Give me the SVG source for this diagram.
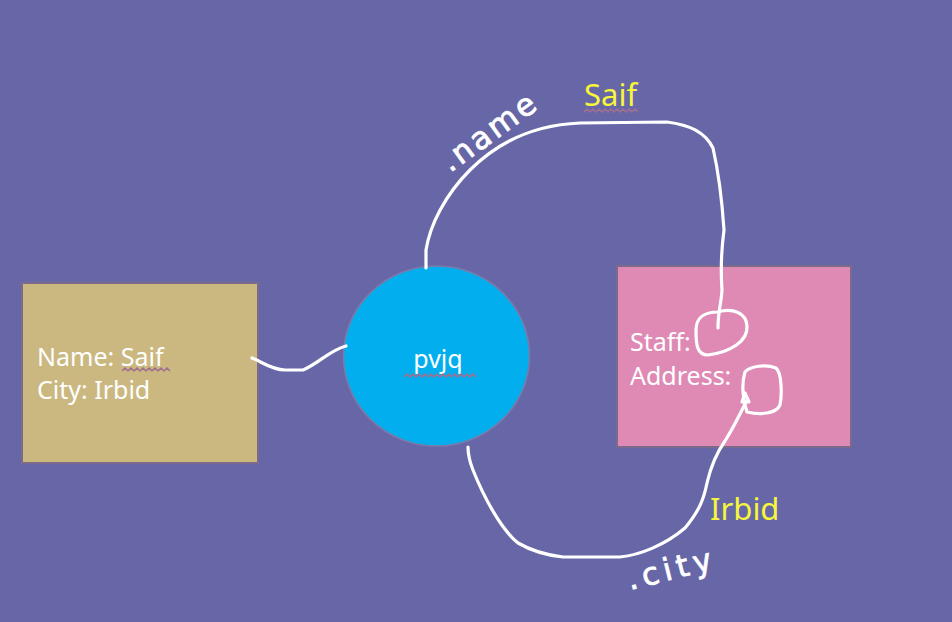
<svg xmlns="http://www.w3.org/2000/svg" width="952" height="622" viewBox="0 0 952 622">
<style>
.lbl{font-family:"Noto Sans","Open Sans","Liberation Sans",sans-serif;font-size:25px;fill:#ffffff}
.yel{font-family:"Noto Sans","Open Sans","Liberation Sans",sans-serif;font-size:31px;fill:#f6f63a}
.hand{font-family:"DejaVu Sans","Liberation Sans",sans-serif;font-size:31px;fill:#ffffff;stroke:#ffffff;stroke-width:0.8}
.ink{fill:none;stroke:#ffffff;stroke-width:3.2;stroke-linecap:round;stroke-linejoin:round}
.sq{fill:none;stroke:#a07090;stroke-width:1.5}
.box{stroke:#7c6a8a;stroke-width:2}
</style>
<rect x="0" y="0" width="952" height="622" fill="#6767a8"/>
<g id="person">
<rect class="box" x="22" y="283" width="236" height="180" fill="#cbb880"/>
<text class="lbl" x="37" y="366">Name: Saif</text>
<text class="lbl" x="37" y="399">City: Irbid</text>
<polyline class="sq" points="122,371 125,368 128,371 131,368 134,371 137,368 140,371 143,368 146,371 149,368 152,371 155,368 158,371 161,368 164,371 167,368 170,371"/>
</g>
<g id="pvjq">
<ellipse cx="436.5" cy="356" rx="93" ry="90" fill="#03aeee" stroke="#7c7aa8" stroke-width="1.5"/>
<text class="lbl" x="438" y="368" text-anchor="middle" font-size="31">pvjq</text>
<polyline class="sq" points="404,377 407,374 410,377 413,374 416,377 419,374 422,377 425,374 428,377 431,374 434,377 437,374 440,377 443,374 446,377 449,374 452,377 455,374 458,377 461,374 464,377 467,374 470,377 473,374 476,377"/>
</g>
<g id="staff">
<rect class="box" x="617" y="266" width="234" height="181" fill="#de8ab4"/>
<text class="lbl" x="630" y="351">Staff:</text>
<text class="lbl" x="630" y="385">Address:</text>
</g>
<g id="connectors">
<path class="ink" d="M 252 358 C 262 362 272 370 285 370 L 303 370 C 318 364 330 350 346 346"/>
<path class="ink" d="M 426 268 L 426 250 C 430 225 445 195 470 170 C 495 145 530 125 580 123 L 667 122 C 690 125 705 132 713 148 C 718 170 722 200 724 230 C 722 245 720 262 722 290 C 721 305 718 312 718 328"/>
<path class="ink" d="M 718 312 C 732 308 746 312 747 326 C 748 341 731 352 708 355 C 697 355 696 345 696 330 C 696 318 704 312 718 312 Z"/>
<path class="ink" d="M 745 372 C 750 366 766 364 776 368 C 782 373 782 395 780 405 C 776 414 760 415 747 412 C 742 396 742 382 745 372 Z"/>
<path class="ink" d="M 745 393 L 749 402 L 742 402 Z" fill="#ffffff"/>
<path class="ink" d="M 746 402 C 742 410 735 425 725 441 C 715 455 710 470 707 483 C 704 498 700 510 685 528 C 665 545 640 555 620 557 L 563 557 C 545 555 530 550 518 543 C 502 530 485 500 473 470 C 469 460 468 452 468 447"/>
<text class="hand" letter-spacing="3" transform="translate(450,173) rotate(-36)">.name</text>
<text class="hand" letter-spacing="5" transform="translate(630,590) rotate(-14)">.city</text>
<text class="yel" x="584" y="106">Saif</text>
<polyline class="sq" points="584,112 587,109 590,112 593,109 596,112 599,109 602,112 605,109 608,112 611,109 614,112 617,109 620,112 623,109 626,112 629,109 632,112 635,109 638,112"/>
<text class="yel" x="710" y="520">Irbid</text>
</g>
</svg>
